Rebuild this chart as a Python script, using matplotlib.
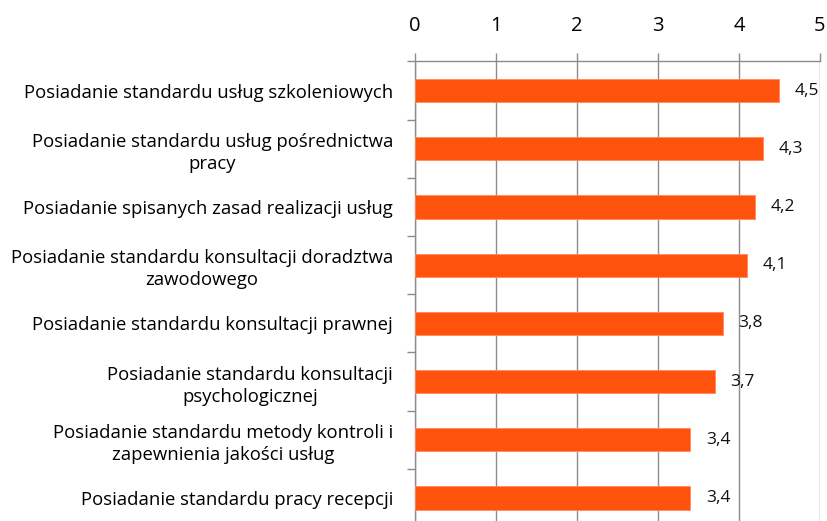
import matplotlib
matplotlib.use('Agg')
import matplotlib.pyplot as plt
import numpy as np

categories = [
    'Posiadanie standardu usług szkoleniowych',
    'Posiadanie standardu usług pośrednictwa\npracy',
    'Posiadanie spisanych zasad realizacji usług',
    'Posiadanie standardu konsultacji doradztwa\nzawodowego',
    'Posiadanie standardu konsultacji prawnej',
    'Posiadanie standardu konsultacji\npsychologicznej',
    'Posiadanie standardu metody kontroli i\nzapewnienia jakości usług',
    'Posiadanie standardu pracy recepcji',
]
values = [4.5, 4.3, 4.2, 4.1, 3.8, 3.7, 3.4, 3.4]
value_labels = ['4,5', '4,3', '4,2', '4,1', '3,8', '3,7', '3,4', '3,4']
xticks = [0, 1, 2, 3, 4, 5]

plt.rcParams['font.family'] = ['Open Sans', 'DejaVu Sans']

fig = plt.figure(figsize=(8.27, 5.21), dpi=100)
ax = fig.add_axes([0.502, -0.0115, 0.4895, 0.8935])

grid_c = '#8c8c8c'
y = np.arange(len(categories))
ax.barh(y, values, height=0.4, color='#FF520D', edgecolor='#FF8A60',
        linewidth=0.6, zorder=3)

for yi, v, lab in zip(y, values, value_labels):
    ax.text(v + 0.19, yi, lab, ha='left', va='center', fontsize=12.5,
            color='#111111', zorder=4)

ax.set_xlim(0, 5)
ax.set_ylim(len(categories) - 0.5, -0.5)

ax.xaxis.tick_top()
ax.set_xticks(xticks)
ax.set_xticklabels([str(t) for t in xticks], fontsize=14.5)
ax.tick_params(axis='x', direction='out', length=6, width=1, color=grid_c,
               pad=12)
ax.grid(axis='x', color=grid_c, linewidth=1, zorder=0)

ax.set_yticks(y)
ax.set_yticklabels(categories, fontsize=13.3, multialignment='center',
                   linespacing=1.3)
ax.tick_params(axis='y', which='major', length=0, pad=16)
ax.set_yticks(np.arange(len(categories) + 1) - 0.5, minor=True)
ax.tick_params(axis='y', which='minor', direction='out', length=6, width=1,
               color=grid_c)

for s in ['right', 'bottom']:
    ax.spines[s].set_visible(False)
for s in ['top', 'left']:
    ax.spines[s].set_color(grid_c)
    ax.spines[s].set_linewidth(1)

fig.savefig('out.png', dpi=100)
